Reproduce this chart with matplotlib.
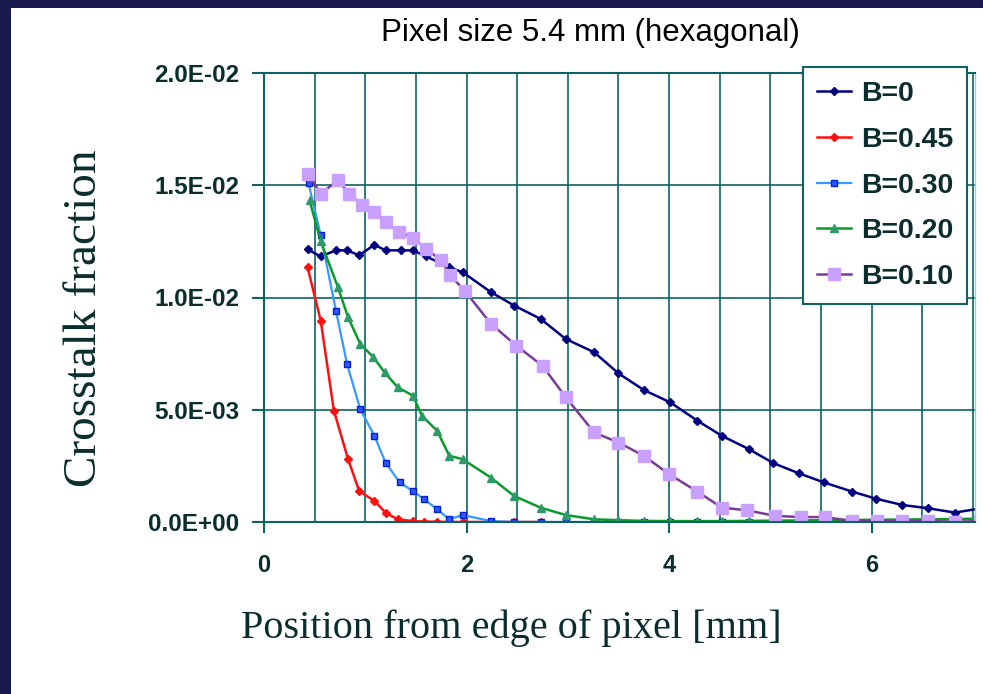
import matplotlib
matplotlib.use("Agg")
import matplotlib.pyplot as plt
from matplotlib.patches import Rectangle
from matplotlib.ticker import FuncFormatter
import numpy as np

# crosstalk fraction vs position from pixel edge, one series per B value
b0_x = [0.43, 0.56, 0.71, 0.82, 0.94, 1.09, 1.20, 1.35, 1.47, 1.60, 1.83, 1.96, 2.24, 2.47, 2.73,
        2.98, 3.26, 3.50, 3.75, 4.01, 4.28, 4.52, 4.79, 5.03, 5.28, 5.53, 5.81, 6.04, 6.30, 6.56,
        6.82, 7.07]
b0_y = [0.01214, 0.01183, 0.01210, 0.01210, 0.01188, 0.01235, 0.01210, 0.01210, 0.01210, 0.01183,
        0.01135, 0.01113, 0.01024, 0.00964, 0.00905, 0.00815, 0.00756, 0.00662, 0.00588, 0.00533,
        0.00451, 0.00384, 0.00324, 0.00262, 0.00217, 0.00176, 0.00135, 0.00104, 0.00076, 0.00061,
        0.00042, 0.00060]

b45_x = [0.43, 0.56, 0.69, 0.83, 0.94, 1.09, 1.20, 1.32, 1.47, 1.58, 1.71, 1.84, 1.96, 2.24, 2.47, 2.73]
b45_y = [0.01135, 0.00897, 0.00496, 0.00280, 0.00138, 0.00094, 0.00042, 0.00012, 0.00004, 0.00002,
         0.00001, 0.0, 0.0, 0.0, 0.0, 0.0]

b30_x = [0.44, 0.56, 0.71, 0.82, 0.95, 1.09, 1.20, 1.34, 1.47, 1.58, 1.71, 1.83, 1.96, 2.24, 2.47,
         2.73, 2.98, 3.26, 3.50, 3.75, 4.01, 4.28, 4.52, 4.79, 5.03, 5.28, 5.53, 5.81, 6.04, 6.30,
         6.56, 6.82, 7.07]
b30_y = [0.01508, 0.01277, 0.00942, 0.00704, 0.00503, 0.00384, 0.00265, 0.00176, 0.00138, 0.00101,
         0.00057, 0.00012, 0.00031, 0.00004, 0.0, 0.0, 0.0, 0.0, 0.0, 0.0, 0.0, 0.0, 0.0, 0.0, 0.0,
         0.0, 0.0, 0.0, 0.0, 0.0, 0.0, 0.0, 0.0]

b20_x = [0.45, 0.56, 0.73, 0.83, 0.95, 1.08, 1.19, 1.32, 1.47, 1.56, 1.71, 1.83, 1.96, 2.24, 2.47,
         2.73, 2.98, 3.26, 3.50, 3.75, 4.01, 4.28, 4.52, 4.79, 5.03, 5.28, 5.53, 5.81, 6.04, 6.30,
         6.56, 6.82, 7.07]
b20_y = [0.01433, 0.01250, 0.01046, 0.00912, 0.00793, 0.00734, 0.00667, 0.00600, 0.00563, 0.00473,
         0.00406, 0.00295, 0.00280, 0.00198, 0.00116, 0.00064, 0.00031, 0.00012, 0.00008, 0.00005,
         0.00004, 0.00004, 0.00004, 0.00005, 0.00006, 0.00007, 0.00008, 0.00009, 0.00010, 0.00011,
         0.00012, 0.00013, 0.00015]

b10_x = [0.43, 0.56, 0.73, 0.84, 0.97, 1.09, 1.20, 1.33, 1.47, 1.60, 1.75, 1.84, 1.98, 2.24, 2.49,
         2.75, 2.98, 3.26, 3.50, 3.75, 4.00, 4.28, 4.52, 4.77, 5.05, 5.30, 5.54, 5.81, 6.05, 6.30,
         6.56, 6.82, 7.07]
b10_y = [0.01552, 0.01463, 0.01522, 0.01463, 0.01411, 0.01381, 0.01336, 0.01292, 0.01267, 0.01217,
         0.01165, 0.01098, 0.01031, 0.00883, 0.00786, 0.00696, 0.00555, 0.00399, 0.00354, 0.00295,
         0.00213, 0.00135, 0.00064, 0.00052, 0.00027, 0.00022, 0.00022, 0.00004, 0.00004, 0.00004,
         0.00004, 0.00001, 0.00004]

labels = ["B=0", "B=0.45", "B=0.30", "B=0.20", "B=0.10"]
x_ticks = [0, 2, 4, 6]
y_ticks = [0.0, 0.005, 0.010, 0.015, 0.020]

W, H = 983, 694
teal = "#0d6262"
ink = "#0a2e2e"

fig = plt.figure(figsize=(W / 100, H / 100), dpi=100)
fig.patch.set_facecolor("#1b1a4f")
# white slide panel
fig.patches.append(Rectangle((11 / W, 0), 1 - 11 / W, 1 - 8 / H, transform=fig.transFigure,
                             facecolor="white", edgecolor="none", zorder=-10))

ax = fig.add_axes([264 / W, 1 - 522 / H, (975 - 264) / W, (522 - 73) / H])
ax.set_zorder(2)
ax.set_facecolor("white")

ax.plot(b0_x, b0_y, color="#000080", lw=1.8, marker="D", ms=4.5, mfc="#000080", mec="#000080",
        label=labels[0])
ax.plot(b45_x, b45_y, color="#ff1010", lw=1.8, marker="D", ms=4.5, mfc="#ff1010", mec="#ff1010",
        label=labels[1])
ax.plot(b30_x, b30_y, color="#3399ff", lw=1.6, marker="s", ms=5, mfc="#3355ff", mec="#0022cc",
        label=labels[2])
ax.plot(b20_x, b20_y, color="#0a9a2a", lw=1.8, marker="^", ms=6, mfc="#2e9a6a", mec="#2e9a6a",
        label=labels[3])
ax.plot(b10_x, b10_y, color="#7a3a96", lw=1.8, marker="s", ms=8, mfc="#c9a0ff", mec="#c9a0ff",
        label=labels[4])

ax.set_xlim(0, 7.02)
ax.set_ylim(0, 0.02)
ax.set_xticks(x_ticks)
ax.set_xticks(np.arange(0.5, 7.01, 0.5), minor=True)
ax.set_yticks(y_ticks)
ax.yaxis.set_major_formatter(FuncFormatter(lambda v, p: f"{v:.1E}"))

ax.grid(True, which="both", axis="x", color=teal, lw=1.2)
ax.grid(True, which="major", axis="y", color=teal, lw=1.2)
ax.set_axisbelow(True)

for s in ["left", "bottom", "top"]:
    ax.spines[s].set_color(teal)
    ax.spines[s].set_linewidth(1.5)
ax.spines["right"].set_color("#9fd0d0")
ax.spines["right"].set_linewidth(1.0)

ax.tick_params(axis="y", which="major", direction="out", length=9, width=1.5, color=teal, pad=9,
               labelsize=17.5, labelcolor=ink)
ax.tick_params(axis="x", which="major", direction="out", length=8, width=1.5, color=teal, pad=15,
               labelsize=17, labelcolor=ink)
ax.tick_params(axis="x", which="minor", length=0)
for t in ax.get_xticklabels() + ax.get_yticklabels():
    t.set_fontfamily("Liberation Sans")
    t.set_fontweight("bold")

leg = ax.legend(loc="upper left", bbox_to_anchor=(803 / W, 1 - 67 / H), bbox_transform=fig.transFigure,
                fancybox=False, framealpha=1, edgecolor=teal, handlelength=1.2, handletextpad=0.35,
                labelspacing=0.7, borderpad=0.48, borderaxespad=0,
                prop={"family": "Liberation Sans", "weight": "bold", "size": 20.5})
leg.get_frame().set_linewidth(1.5)
for t in leg.get_texts():
    t.set_color(ink)

fig.text(590 / W, 1 - 33 / H, "Pixel size 5.4 mm (hexagonal)", ha="center", va="center",
         fontsize=22.5, family="Liberation Sans", color="black")
fig.text(511 / W, 1 - 628 / H, "Position from edge of pixel [mm]", ha="center", va="center",
         fontsize=29, family="Liberation Serif", color=ink)
fig.text(85 / W, 1 - 318 / H, "Crosstalk fraction", ha="center", va="center", rotation=90,
         fontsize=34, family="Liberation Serif", color=ink)

fig.savefig("out.png", dpi=100, facecolor=fig.get_facecolor())
